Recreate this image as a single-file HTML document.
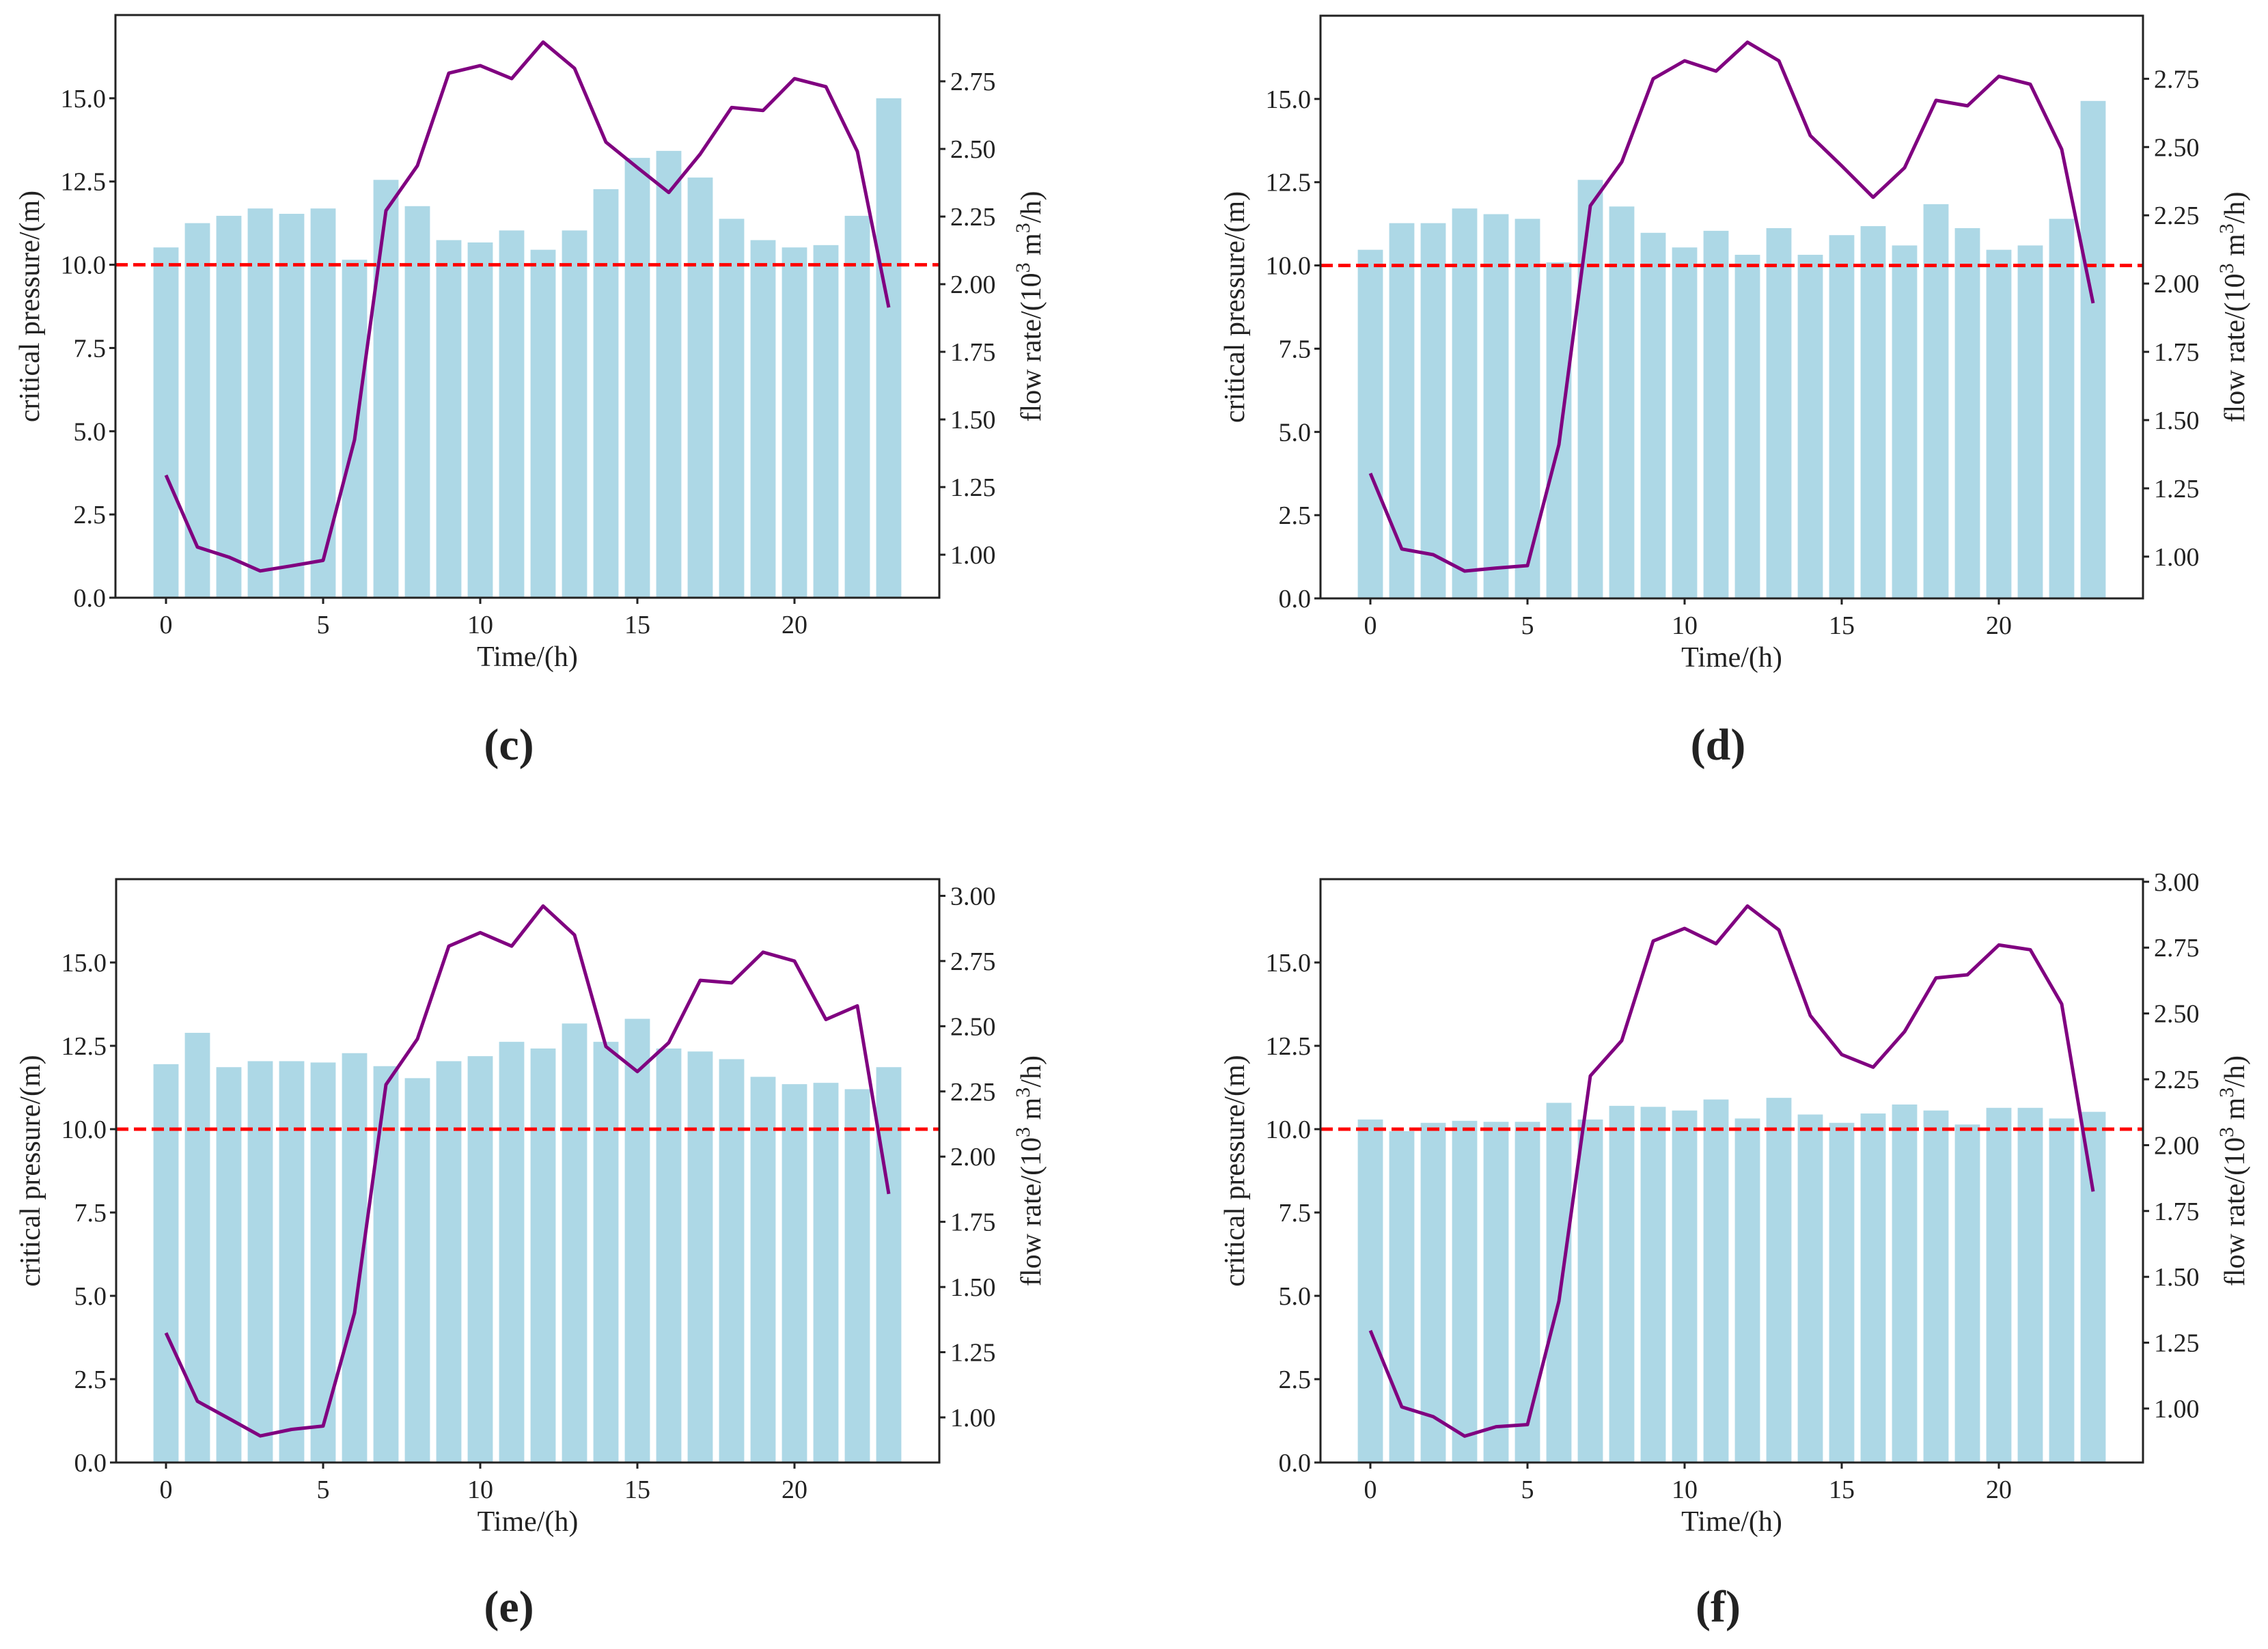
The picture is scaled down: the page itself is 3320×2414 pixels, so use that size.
<!DOCTYPE html>
<html><head><meta charset="utf-8">
<style>
html,body{margin:0;padding:0;background:#fff;}
svg{display:block;}
text{font-family:"Liberation Serif",serif;fill:#222;}
</style></head>
<body>
<svg id="fig" width="3320" height="2414" viewBox="0 0 3320 2414" xmlns="http://www.w3.org/2000/svg"></svg>
<script>
const hours = [0,1,2,3,4,5,6,7,8,9,10,11,12,13,14,15,16,17,18,19,20,21,22,23];
const xTicks = [0,5,10,15,20];
const leftTicks = [0.0,2.5,5.0,7.5,10.0,12.5,15.0];
const threshold = 10;
// panel c
const pressureC = [10.52,11.25,11.47,11.69,11.53,11.69,10.15,12.55,11.76,10.74,10.67,11.03,10.45,11.03,12.27,13.21,13.42,12.62,11.38,10.74,10.52,10.59,11.47,15.0];
const flowC = [1.294,1.028,0.991,0.940,0.959,0.979,1.425,2.272,2.438,2.780,2.808,2.760,2.895,2.798,2.525,2.431,2.339,2.481,2.653,2.642,2.760,2.730,2.491,1.914];
const rightTicksC = [1.00,1.25,1.50,1.75,2.00,2.25,2.50,2.75];
// panel d
const pressureD = [10.47,11.27,11.27,11.71,11.54,11.40,10.09,12.57,11.77,10.98,10.54,11.04,10.32,11.12,10.32,10.91,11.18,10.60,11.84,11.12,10.47,10.60,11.40,14.94];
const flowD = [1.305,1.028,1.007,0.947,0.958,0.967,1.410,2.285,2.445,2.750,2.816,2.778,2.884,2.816,2.542,2.431,2.316,2.424,2.671,2.651,2.759,2.730,2.492,1.928];
const rightTicksD = [1.00,1.25,1.50,1.75,2.00,2.25,2.50,2.75];
// panel e
const pressureE = [11.95,12.89,11.86,12.04,12.04,12.00,12.28,11.89,11.53,12.04,12.19,12.62,12.42,13.17,12.62,13.31,12.42,12.33,12.10,11.57,11.35,11.39,11.20,11.86];
const flowE = [1.324,1.062,0.996,0.929,0.954,0.967,1.401,2.276,2.451,2.807,2.859,2.807,2.961,2.850,2.422,2.326,2.437,2.676,2.666,2.784,2.750,2.526,2.578,1.857];
const rightTicksE = [1.00,1.25,1.50,1.75,2.00,2.25,2.50,2.75,3.00];
// panel f
const pressureF = [10.29,9.94,10.19,10.25,10.22,10.22,10.79,10.29,10.70,10.67,10.56,10.89,10.32,10.94,10.44,10.19,10.47,10.74,10.56,10.14,10.64,10.64,10.32,10.52];
const flowF = [1.296,1.006,0.969,0.895,0.931,0.939,1.408,2.263,2.397,2.775,2.823,2.765,2.908,2.817,2.492,2.344,2.296,2.431,2.635,2.647,2.760,2.742,2.536,1.824];
const rightTicksF = [1.00,1.25,1.50,1.75,2.00,2.25,2.50,2.75,3.00];

const NS = "http://www.w3.org/2000/svg";
const svg = document.getElementById('fig');
function mk(tag, attrs, parent){
  const e = document.createElementNS(NS, tag);
  for (const k in attrs) e.setAttribute(k, attrs[k]);
  (parent||svg).appendChild(e);
  return e;
}
const panels = [
  {id:'c', L:169, R:1375, T:22, B:875, x0:243, yMax:17.5, rMin:0.841, rMax:2.995, bars:pressureC, flow:flowC, rt:rightTicksC, lx:745, ly:1090},
  {id:'d', L:1933, R:3137, T:23, B:876, x0:2006, yMax:17.5, rMin:0.847, rMax:2.981, bars:pressureD, flow:flowD, rt:rightTicksD, lx:2515, ly:1090},
  {id:'e', L:170, R:1375, T:1287, B:2141, x0:243, yMax:17.5, rMin:0.827, rMax:3.064, bars:pressureE, flow:flowE, rt:rightTicksE, lx:745, ly:2352},
  {id:'f', L:1933, R:3137, T:1287, B:2141, x0:2006, yMax:17.5, rMin:0.795, rMax:3.01, bars:pressureF, flow:flowF, rt:rightTicksF, lx:2515, ly:2352}
];
const pxPerHour = 46;
panels.forEach(p => {
  const g = mk('g', {});
  
  
  const xs = h => p.x0 + h * pxPerHour;
  const yl = v => p.B - v / p.yMax * (p.B - p.T);
  const yr = v => p.B - (v - p.rMin) / (p.rMax - p.rMin) * (p.B - p.T);
  // bars
  hours.forEach((h, i) => {
    const b = mk('rect', {x: xs(h) - 0.4*pxPerHour, y: yl(p.bars[i]), width: 0.8*pxPerHour, height: p.B - yl(p.bars[i]), fill:'#add8e6'}, g);
    
    
  });
  // threshold line
  const th = mk('line', {x1:p.L, x2:p.R, y1:yl(threshold), y2:yl(threshold), stroke:'#ff0000', 'stroke-width':5, 'stroke-dasharray':'18,8'}, g);
  
  
  // flow line
  const pts = hours.map((h,i) => xs(h).toFixed(1) + ',' + yr(p.flow[i]).toFixed(1)).join(' ');
  const fl = mk('polyline', {points: pts, fill:'none', stroke:'#800080', 'stroke-width':5, 'stroke-linejoin':'round'}, g);
  
  
  // frame
  const fr = mk('rect', {x:p.L, y:p.T, width:p.R-p.L, height:p.B-p.T, fill:'none', stroke:'#222', 'stroke-width':3}, g);
  
  
  // x ticks
  xTicks.forEach(t => {
    mk('line', {x1:xs(t), x2:xs(t), y1:p.B, y2:p.B+9, stroke:'#222', 'stroke-width':3}, g);
    const tx = mk('text', {x:xs(t), y:p.B+52, 'font-size':38, 'text-anchor':'middle'}, g);
    tx.textContent = t;
    
    
  });
  // left ticks
  leftTicks.forEach(t => {
    mk('line', {x1:p.L-9, x2:p.L, y1:yl(t), y2:yl(t), stroke:'#222', 'stroke-width':3}, g);
    const tx = mk('text', {x:p.L-14, y:yl(t)+13, 'font-size':38, 'text-anchor':'end'}, g);
    tx.textContent = t.toFixed(1);
    
    
  });
  // right ticks
  p.rt.forEach(t => {
    mk('line', {x1:p.R, x2:p.R+9, y1:yr(t), y2:yr(t), stroke:'#222', 'stroke-width':3}, g);
    const tx = mk('text', {x:p.R+16, y:yr(t)+13, 'font-size':38, 'text-anchor':'start'}, g);
    tx.textContent = t.toFixed(2);
    
    
  });
  // axis titles
  const xt = mk('text', {x:(p.L+p.R)/2, y:p.B+100, 'font-size':42, 'text-anchor':'middle'}, g);
  xt.textContent = 'Time/(h)';
  
  
  const ylt = mk('text', {x:0, y:0, 'font-size':42, 'text-anchor':'middle', transform:`translate(${p.L-112},${(p.T+p.B)/2}) rotate(-90)`}, g);
  ylt.textContent = 'critical pressure/(m)';
  
  
  const yrt = mk('text', {x:0, y:0, 'font-size':42, 'text-anchor':'middle', transform:`translate(${p.R+148},${(p.T+p.B)/2}) rotate(-90)`}, g);
  yrt.innerHTML = 'flow rate/(10<tspan dy="-16" font-size="30">3</tspan><tspan dy="16">  m</tspan><tspan dy="-16" font-size="30">3</tspan><tspan dy="16">/h)</tspan>';
  
  
  // panel label
  const pl = mk('text', {x:p.lx, y:p.ly+22, 'font-size':66, 'text-anchor':'middle', 'font-weight':'bold'}, g);
  pl.innerHTML = '(' + p.id + ')';
  
  
});
</script>
</body></html>
